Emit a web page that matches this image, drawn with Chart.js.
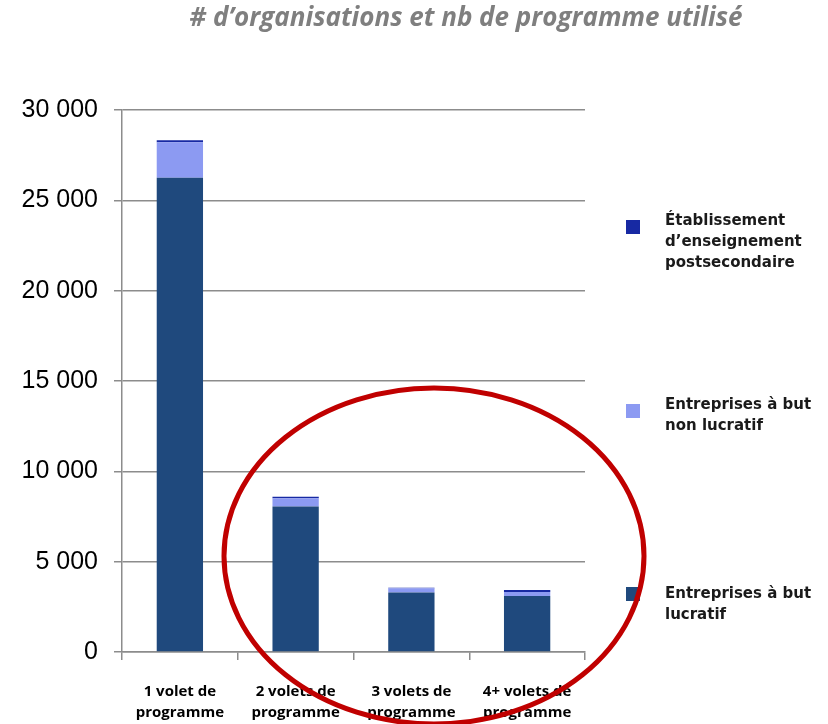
<!DOCTYPE html>
<html>
<head>
<meta charset="utf-8">
<script src="https://cdn.jsdelivr.net/npm/chart.js@4"></script>
<style>
  html, body { margin: 0; padding: 0; background: #fff; }
  #wrap { width: 828px; height: 724px; position: relative; }
</style>
</head>
<body>
<div id="wrap"><canvas id="chart"></canvas></div>
<script>
const categories = [['1 volet de', 'programme'], ['2 volets de', 'programme'], ['3 volets de', 'programme'], ['4+ volets de', 'programme']];
const lucratif = [26250, 8050, 3300, 3100];
const nonLucratif = [1960, 460, 230, 220];
const postsecondaire = [110, 90, 30, 110];
const yTicks = [0, 5000, 10000, 15000, 20000, 25000, 30000];

const titleText = '# d\u2019organisations et nb de programme utilisé';
const legendLines = {
  'Établissement d’enseignement postsecondaire': ['Établissement', 'd’enseignement', 'postsecondaire'],
  'Entreprises à but non lucratif': ['Entreprises à but', 'non lucratif'],
  'Entreprises à but lucratif': ['Entreprises à but', 'lucratif']
};

// title, right-hand legend and the red highlight ellipse
const decorations = {
  id: 'decorations',
  afterDraw(chart) {
    const ctx = chart.ctx;
    ctx.save();
    ctx.fillStyle = '#7f7f7f';
    ctx.font = 'italic bold 26px "Open Sans"';
    ctx.textAlign = 'center';
    ctx.textBaseline = 'middle';
    ctx.fillText(titleText, 466, 19);

    // legend, top item is the last dataset
    const items = chart.data.datasets.slice().reverse();
    const itemY = [227, 411, 594];
    ctx.font = 'bold 15px "DejaVu Sans"';
    ctx.textAlign = 'left';
    items.forEach(function(ds, i) {
      const y = itemY[i];
      ctx.fillStyle = ds.backgroundColor;
      ctx.fillRect(626, y - 7, 14, 14);
      ctx.fillStyle = '#1a1a1a';
      const lines = legendLines[ds.label];
      const first = (i === 2) ? y : y - 6;
      lines.forEach(function(t, j) {
        ctx.fillText(t, 665, first + j * 21);
      });
    });

    ctx.strokeStyle = '#c00000';
    ctx.lineWidth = 5;
    ctx.beginPath();
    ctx.ellipse(434, 556, 210, 168, 0, 0, Math.PI * 2);
    ctx.stroke();
    ctx.restore();
  }
};

const ctx = document.getElementById('chart').getContext('2d');
const chart = new Chart(ctx, {
  type: 'bar',
  data: {
    labels: categories,
    datasets: [{
      label: 'Entreprises à but lucratif',
      data: lucratif,
      backgroundColor: '#1f497d'
    },
    {
      label: 'Entreprises à but non lucratif',
      data: nonLucratif,
      backgroundColor: '#8c9af2'
    },
    {
      label: 'Établissement d’enseignement postsecondaire',
      data: postsecondaire,
      backgroundColor: '#1729a3'
    }]
  },
  options: {
    responsive: true,
    maintainAspectRatio: false,
    animation: false,
    datasets: {
      bar: {
        barPercentage: 0.4,
        categoryPercentage: 1
      }
    },
    layout: {
      padding: { top: 110, right: 243, bottom: 0, left: 0 }
    },
    plugins: {
      legend: { display: false },
      title: { display: false },
      tooltip: { enabled: false }
    },
    scales: {
      x: {
        stacked: true,
        afterFit: function(scale) { scale.height = 72; },
        grid: {
          offset: true,
          drawOnChartArea: false,
          drawTicks: true,
          tickLength: 8,
          color: '#8c8c8c',
          lineWidth: 1.5
        },
        border: { display: true, color: '#8c8c8c', width: 1.5 },
        ticks: {
          color: '#000',
          padding: 21,
          maxRotation: 0,
          font: { family: 'Open Sans', weight: 'bold', size: 15, lineHeight: 1.4 }
        }
      },
      y: {
        stacked: true,
        min: 0,
        max: 30000,
        afterFit: function(scale) { scale.width = 122; },
        afterBuildTicks: function(scale) {
          scale.ticks = yTicks.map(function(v) { return { value: v }; });
        },
        grid: {
          color: '#8c8c8c',
          lineWidth: 1.5,
          tickLength: 8
        },
        border: { display: true, color: '#8c8c8c', width: 1.5 },
        ticks: {
          color: '#000',
          padding: 16,
          font: { family: 'Liberation Sans', size: 25 },
          callback: function(value) {
            return value === 0 ? '0' : Math.floor(value / 1000) + ' 000';
          }
        }
      }
    }
  },
  plugins: [decorations]
});
</script>
</body>
</html>
